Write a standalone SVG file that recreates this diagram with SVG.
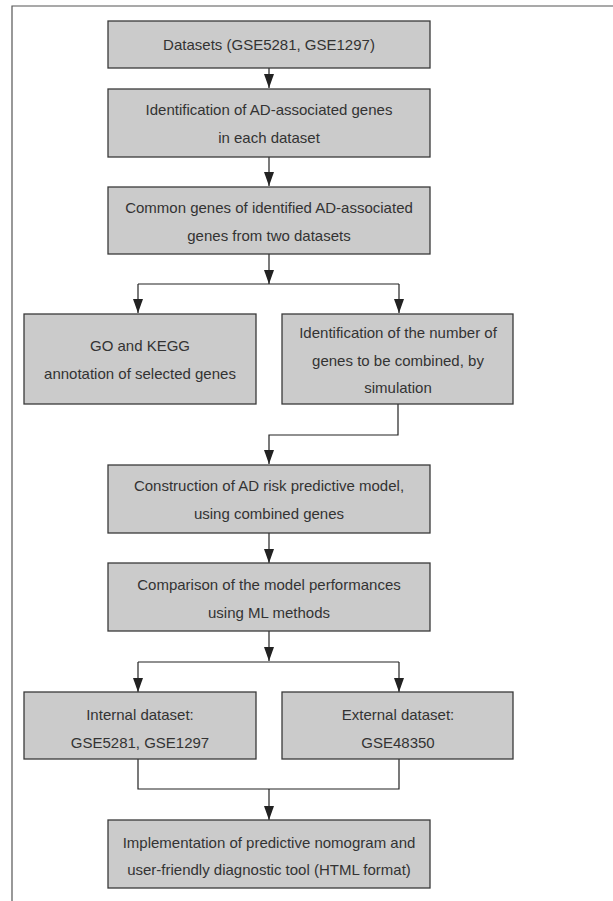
<svg xmlns="http://www.w3.org/2000/svg" width="613" height="901" viewBox="0 0 613 901">
<style>
.box{fill:#cbcbcb;stroke:#3a3a3a;stroke-width:1.3}
.t{font-family:"Liberation Sans",Arial,sans-serif;font-size:15px;fill:#333;text-anchor:middle;dominant-baseline:central}
.c{fill:none;stroke:#222;stroke-width:1.2}
.frame{fill:none;stroke:#555;stroke-width:1.2}
</style>
<defs>
<marker id="ah" markerUnits="userSpaceOnUse" markerWidth="14" markerHeight="10" refX="14" refY="5" orient="auto" viewBox="0 0 14 10">
<path d="M0,0 L14,5 L0,10 Z" fill="#222"/>
</marker>
</defs>
<rect width="613" height="901" fill="#fff"/>
<path class="frame" d="M12,901 V6 H613"/>
<g id="connectors">
<path class="c" d="M269,68 V88" marker-end="url(#ah)"/>
<path class="c" d="M269,157 V186" marker-end="url(#ah)"/>
<path class="c" d="M269,254 V284" marker-end="url(#ah)"/>
<path class="c" d="M138,284 H399"/>
<path class="c" d="M138,284 V313" marker-end="url(#ah)"/>
<path class="c" d="M399,284 V313" marker-end="url(#ah)"/>
<path class="c" d="M398,404 V435 H269 V464" marker-end="url(#ah)"/>
<path class="c" d="M269,533 V563" marker-end="url(#ah)"/>
<path class="c" d="M269,631 V661" marker-end="url(#ah)"/>
<path class="c" d="M138,662 H399"/>
<path class="c" d="M138,662 V692" marker-end="url(#ah)"/>
<path class="c" d="M399,662 V692" marker-end="url(#ah)"/>
<path class="c" d="M138,759 V789 H399 V759"/>
<path class="c" d="M269,789 V820" marker-end="url(#ah)"/>
</g>
<g id="n1"><rect class="box" x="108" y="21" width="322" height="47"/><text class="t" x="269" y="44">Datasets (GSE5281, GSE1297)</text></g>
<g id="n2"><rect class="box" x="108" y="89" width="322" height="68"/><text class="t" x="269" y="109">Identification of AD-associated genes</text><text class="t" x="269" y="137">in each dataset</text></g>
<g id="n3"><rect class="box" x="108" y="187" width="322" height="67"/><text class="t" x="269" y="207">Common genes of identified AD-associated</text><text class="t" x="269" y="235">genes from two datasets</text></g>
<g id="n4"><rect class="box" x="24" y="314" width="232" height="90"/><text class="t" x="140" y="345">GO and KEGG</text><text class="t" x="140" y="373">annotation of selected genes</text></g>
<g id="n5"><rect class="box" x="282" y="314" width="231" height="90"/><text class="t" x="398" y="332">Identification of the number of</text><text class="t" x="398" y="360">genes to be combined, by</text><text class="t" x="398" y="387">simulation</text></g>
<g id="n6"><rect class="box" x="108" y="465" width="322" height="68"/><text class="t" x="269" y="485">Construction of AD risk predictive model,</text><text class="t" x="269" y="513">using combined genes</text></g>
<g id="n7"><rect class="box" x="108" y="563" width="322" height="68"/><text class="t" x="269" y="584">Comparison of the model performances</text><text class="t" x="269" y="612">using ML methods</text></g>
<g id="n8"><rect class="box" x="24" y="692" width="232" height="67"/><text class="t" x="140" y="714">Internal dataset:</text><text class="t" x="140" y="742">GSE5281, GSE1297</text></g>
<g id="n9"><rect class="box" x="282" y="692" width="231" height="67"/><text class="t" x="398" y="714">External dataset:</text><text class="t" x="398" y="742">GSE48350</text></g>
<g id="n10"><rect class="box" x="108" y="820" width="322" height="68"/><text class="t" x="269" y="842">Implementation of predictive nomogram and</text><text class="t" x="269" y="869">user-friendly diagnostic tool (HTML format)</text></g>
</svg>
